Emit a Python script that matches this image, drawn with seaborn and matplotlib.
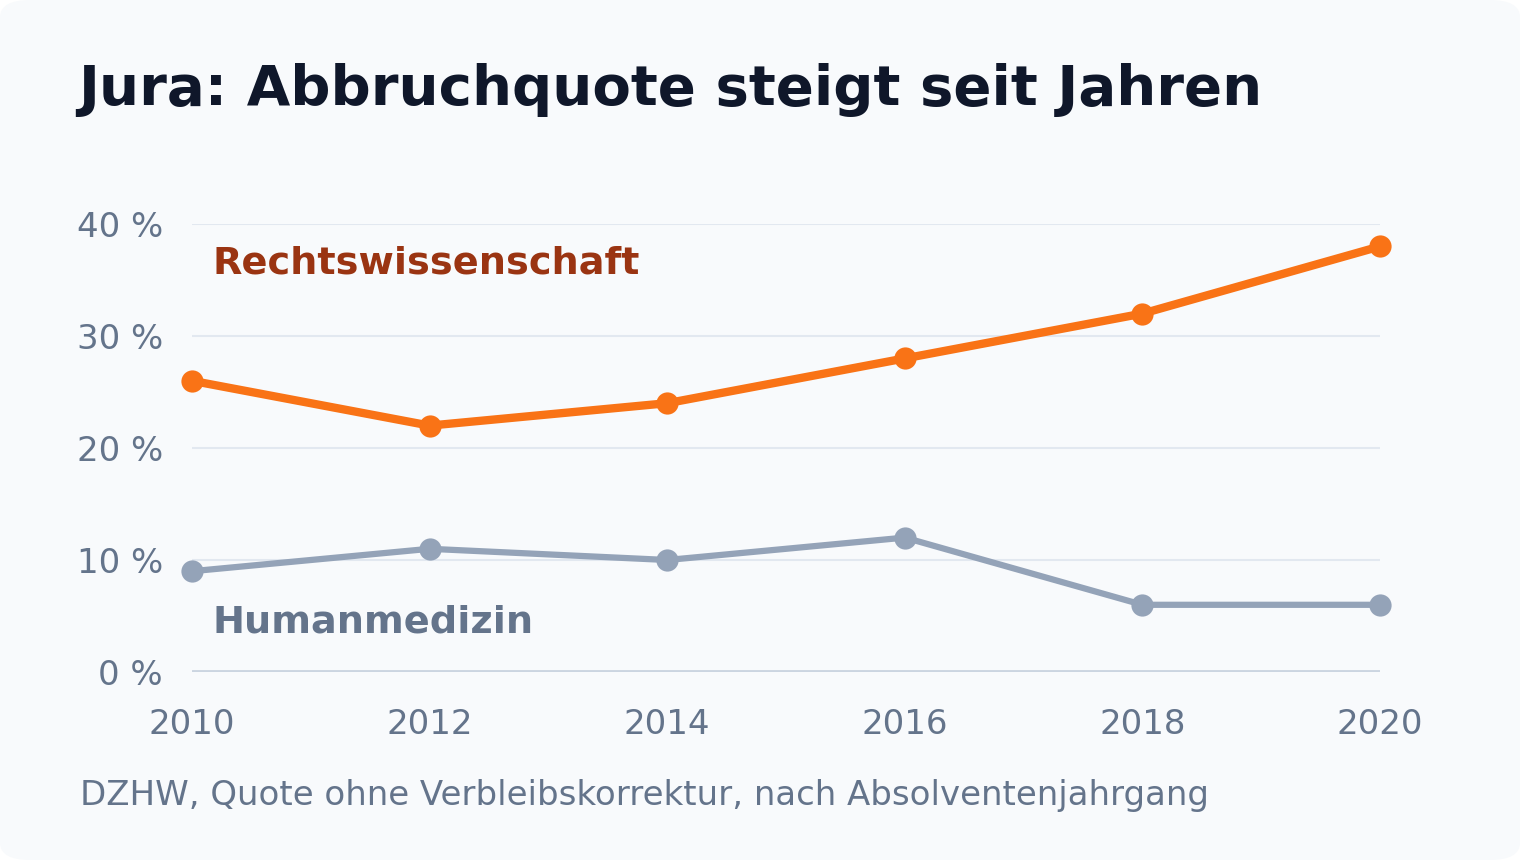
import matplotlib
matplotlib.use("Agg")
import matplotlib.pyplot as plt
import seaborn as sns
import pandas as pd
from matplotlib.patches import FancyBboxPatch

years = [2010, 2012, 2014, 2016, 2018, 2020]
jura = [26, 22, 24, 28, 32, 38]
medizin = [9, 11, 10, 12, 6, 6]
yticks = [0, 10, 20, 30, 40]
ytick_labels = ["0 %", "10 %", "20 %", "30 %", "40 %"]

df = pd.DataFrame({"Jahr": years * 2, "Quote": jura + medizin,
                   "Fach": ["Rechtswissenschaft"] * 6 + ["Humanmedizin"] * 6})

sns.set_theme(style="white")
plt.rcParams['font.family'] = ['DejaVu Sans']

fig = plt.figure(figsize=(15.2, 8.6), dpi=100)
fig.patch.set_facecolor("white")
fig.patches.append(FancyBboxPatch((0, 0), 1, 1, boxstyle="round,pad=0,rounding_size=0.02",
                                  transform=fig.transFigure, facecolor="#f8fafc", edgecolor="none", zorder=-10))
ax = fig.add_axes([192/1520, 1-672/860, (1380-192)/1520, (672-224)/860])
ax.set_facecolor("none")

palette = {"Rechtswissenschaft": "#f97316", "Humanmedizin": "#94a3b8"}
for fach, lw in [("Humanmedizin", 4.5), ("Rechtswissenschaft", 6)]:
    sub = df[df.Fach == fach]
    sns.lineplot(data=sub, x="Jahr", y="Quote", ax=ax, color=palette[fach], lw=lw,
                 marker="o", markersize=16, markeredgewidth=0, clip_on=False, zorder=3)

ax.set_xlim(2010, 2020)
ax.set_ylim(0, 40)
ax.set_yticks(yticks)
ax.set_yticklabels(ytick_labels)
ax.set_xticks(years)
ax.tick_params(axis="both", length=0, labelsize=25*0.72/0.72*0.98/1.0 if False else 17.5*1.4, labelcolor="#64748b")
ax.tick_params(axis="y", pad=21)
ax.tick_params(axis="x", pad=26)
for y in yticks[1:]:
    ax.axhline(y, color="#e2e8f0", lw=1.5, zorder=0)
ax.axhline(0, color="#cbd5e1", lw=3.5, zorder=1)
for s in ax.spines.values():
    s.set_visible(False)
ax.set_xlabel(""); ax.set_ylabel("")

ax.text(2010.17, 36.5, "Rechtswissenschaft", fontsize=27.5, fontweight="bold", color="#9a3412", va="center")
ax.text(2010.17, 4.4, "Humanmedizin", fontsize=27.5, fontweight="bold", color="#64748b", va="center")

fig.text(78/1520, 1-90/860, "Jura: Abbruchquote steigt seit Jahren", fontsize=40.5,
         fontweight="bold", color="#0f172a", va="center")
fig.text(80/1520, 1-796/860, "DZHW, Quote ohne Verbleibskorrektur, nach Absolventenjahrgang",
         fontsize=24.5, color="#64748b", va="center")

fig.savefig("out.png", dpi=100, facecolor=fig.get_facecolor())
